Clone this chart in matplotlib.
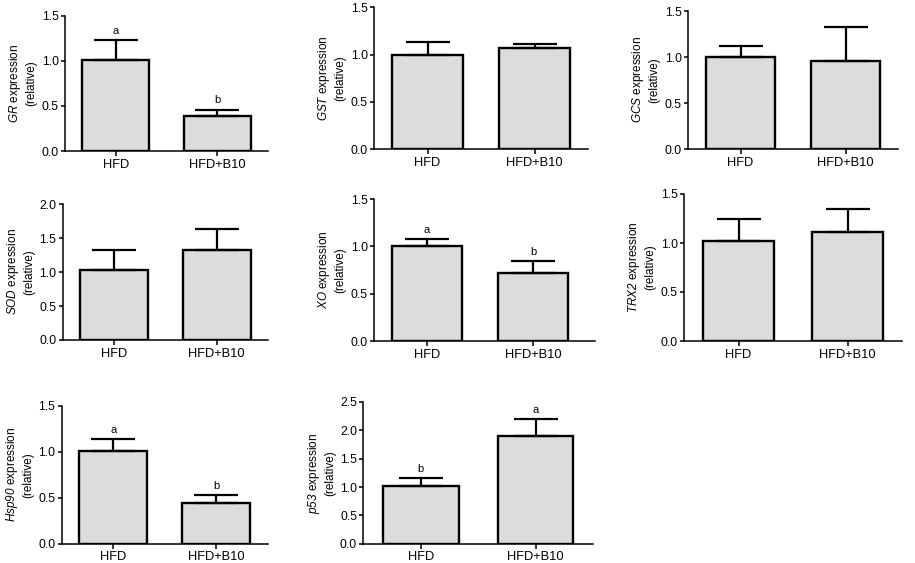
import matplotlib
matplotlib.use("Agg")
import matplotlib.pyplot as plt
from matplotlib.ticker import FormatStrFormatter, MultipleLocator

plt.rcParams['font.family'] = ['Liberation Sans', 'DejaVu Sans']
plt.rcParams['mathtext.fontset'] = 'custom'
plt.rcParams['mathtext.it'] = 'Liberation Sans:italic'
plt.rcParams['mathtext.rm'] = 'Liberation Sans:italic'

# ---- data ----
groups = ['HFD', 'HFD+B10']
genes = ['GR', 'GST', 'GCS', 'SOD', 'XO', 'TRX2', 'Hsp90', 'p53']
mean_hfd = [1.01, 1.00, 1.00, 1.03, 1.00, 1.02, 1.01, 1.02]
mean_b10 = [0.39, 1.07, 0.96, 1.32, 0.72, 1.11, 0.44, 1.90]
err_hfd = [0.22, 0.13, 0.12, 0.29, 0.08, 0.225, 0.13, 0.137]
err_b10 = [0.07, 0.04, 0.37, 0.31, 0.125, 0.235, 0.087, 0.295]
letters_hfd = ['a', '', '', '', 'a', '', 'a', 'b']
letters_b10 = ['b', '', '', '', 'b', '', 'b', 'a']
ymax = [1.5, 1.5, 1.5, 2.0, 1.5, 1.5, 1.5, 2.5]

# ---- layout (pixels: x_left, x_right, y_top, y_bottom) ----
W, H = 915, 563
boxes = [
    (65, 268, 15.7, 151),
    (374, 588, 7.3, 149.3),
    (688, 898, 11, 149),
    (62.7, 268, 204, 340),
    (374, 595, 199, 341),
    (684, 902, 194, 341),
    (61.7, 268, 405.7, 543.7),
    (363.3, 593, 402, 543.7),
]

fig = plt.figure(figsize=(W / 100, H / 100), dpi=100)

for i, g in enumerate(genes):
    x0, x1, yt, yb = boxes[i]
    ax = fig.add_axes([x0 / W, 1 - yb / H, (x1 - x0) / W, (yb - yt) / H])
    xs = [0, 1]
    means = [mean_hfd[i], mean_b10[i]]
    errs = [err_hfd[i], err_b10[i]]
    ax.bar(xs, means, width=0.66, color='#dcdcdc', edgecolor='black',
           linewidth=1.7, zorder=2)
    ax.errorbar(xs, means, yerr=[[0, 0], errs], fmt='none', ecolor='black',
                elinewidth=1.6, capsize=15.5, capthick=1.6, zorder=3)
    for x, m, e, lab in zip(xs, means, errs, [letters_hfd[i], letters_b10[i]]):
        if lab:
            ax.annotate(lab, (x, m + e), xytext=(0, 3), textcoords='offset points',
                        ha='center', va='bottom', fontsize=8)
    ax.set_xlim(-0.5, 1.5 if i != 4 else 1.58)
    ax.set_ylim(0, ymax[i])
    ax.yaxis.set_major_locator(MultipleLocator(0.5))
    ax.yaxis.set_major_formatter(FormatStrFormatter('%.1f'))
    ax.set_xticks(xs)
    ax.set_xticklabels(groups, fontsize=9.3)
    ax.tick_params(axis='y', labelsize=8.8, length=3, width=1.1, pad=1.5)
    ax.tick_params(axis='x', length=3.5, width=1.1, pad=2)
    for s in ['top', 'right']:
        ax.spines[s].set_visible(False)
    for s in ['left', 'bottom']:
        ax.spines[s].set_linewidth(1.1)
    ax.set_ylabel(r'$\mathit{' + g + r'}$ expression' + '\n(relative)',
                  fontsize=8.5, labelpad=3, linespacing=1.25)

fig.savefig('out.png', dpi=100)
